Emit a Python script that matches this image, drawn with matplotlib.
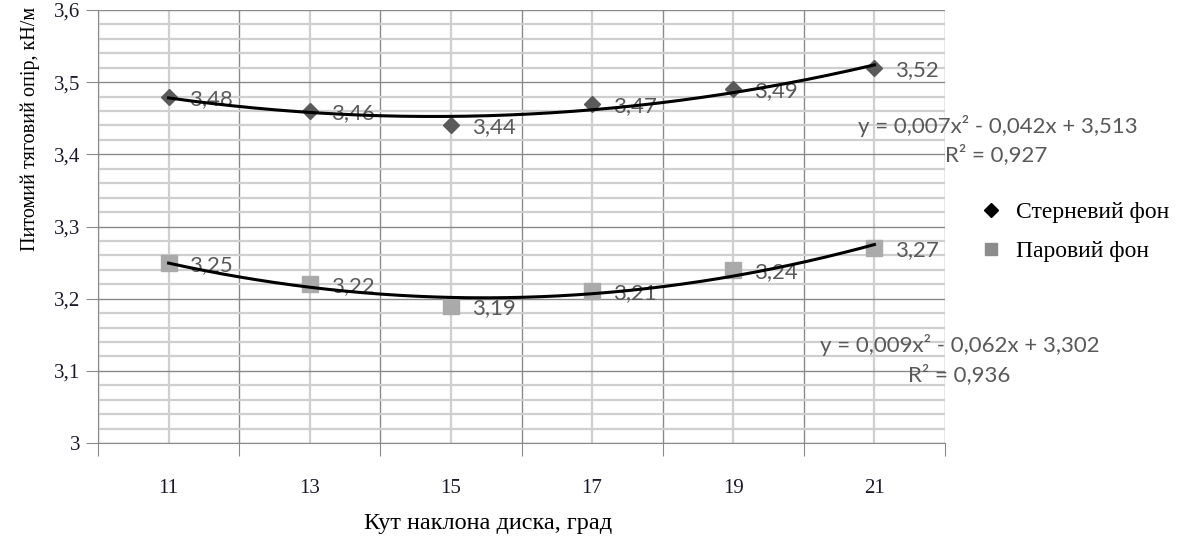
import matplotlib
matplotlib.use("Agg")
import matplotlib.pyplot as plt
from matplotlib.lines import Line2D
from matplotlib.ticker import MultipleLocator, FixedLocator
import numpy as np


# Дані
kuty = [11, 13, 15, 17, 19, 21]
sternevyi = [3.48, 3.46, 3.44, 3.47, 3.49, 3.52]
parovyi = [3.25, 3.22, 3.19, 3.21, 3.24, 3.27]
nazvy_serii = ["Стерневий фон", "Паровий фон"]
rivnyannya_1 = ["y = 0,007x² - 0,042x + 3,513", "R² = 0,927"]
rivnyannya_2 = ["y = 0,009x² - 0,062x + 3,302", "R² = 0,936"]
pidpys_x = "Кут наклона диска, град"
pidpys_y = "Питомий тяговий опір, кН/м"

SERIF = "Liberation Serif"
SANS = "Lato"
SIRYI_TEKST = "#595959"


def kryva_trendu(x, y):
    """Поліноміальний тренд 2-го степеня як в Excel (x = номер точки)."""
    indeksy = np.arange(1, len(x) + 1)
    koef = np.polyfit(indeksy, y, 2)
    gusto = np.linspace(1, len(x), 200)
    x_gusto = x[0] + (gusto - 1) * (x[1] - x[0])
    return x_gusto, np.polyval(koef, gusto)


def pidpysy_tochok(ax, x, y):
    for xi, yi in zip(x, y):
        ax.annotate(f"{yi:.2f}".replace(".", ","), (xi, yi), xytext=(15, -1.5),
                    textcoords="offset points", va="center", ha="left",
                    fontsize=16, family=SANS, color=SIRYI_TEKST)


fig = plt.figure(figsize=(11.92, 5.39), dpi=100)
ax = fig.add_axes([98 / 1192, 96 / 539, 847 / 1192, 433 / 539])

ax.set_xlim(10, 22)
ax.set_ylim(3.0, 3.6)

# сітка
ax.xaxis.set_major_locator(MultipleLocator(2))
ax.xaxis.set_minor_locator(FixedLocator(kuty))
ax.yaxis.set_major_locator(MultipleLocator(0.1))
ax.yaxis.set_minor_locator(MultipleLocator(0.02))
ax.grid(which="major", color="#8a8a8a", lw=1.0)
ax.grid(which="minor", color="#cfcfcf", lw=1.6)
ax.set_axisbelow(True)

ax.tick_params(axis="x", which="major", length=9, color="#8a8a8a", labelbottom=False)
ax.tick_params(axis="x", which="minor", length=0, pad=26, labelsize=15)
ax.tick_params(axis="y", which="major", length=9, color="#8a8a8a", labelsize=15, pad=4)
ax.tick_params(axis="y", which="minor", length=0)
ax.set_xticks(kuty, [str(k) for k in kuty], minor=True)
ax.set_yticks(np.arange(3.0, 3.61, 0.1),
              ["3" if abs(v - 3) < 1e-9 else f"{v:.1f}".replace(".", ",")
               for v in np.arange(3.0, 3.61, 0.1)])
for lab in ax.get_xticklabels(minor=True) + ax.get_yticklabels():
    lab.set_family(SERIF)
    lab.set_color("#1a1a2a")

for storona in ["top", "right"]:
    ax.spines[storona].set_visible(False)
ax.spines["left"].set_color("#8a8a8a")
ax.spines["bottom"].set_color("#8a8a8a")

# серії
ax.plot(kuty, sternevyi, ls="none", marker="D", ms=8, color="#5a5a5a", zorder=3)
ax.plot(kuty, parovyi, ls="none", marker="s", ms=11, color="#aaaaaa", zorder=3)

for y in (sternevyi, parovyi):
    xt, yt = kryva_trendu(kuty, y)
    ax.plot(xt, yt, color="black", lw=2.2, zorder=4)

pidpysy_tochok(ax, kuty, sternevyi)
pidpysy_tochok(ax, kuty, parovyi)

# рівняння трендів
fig.text(1138 / 1192, 1 - 126 / 539, rivnyannya_1[0], ha="right", va="center",
         fontsize=16, family=SANS, color=SIRYI_TEKST)
fig.text(1047 / 1192, 1 - 155 / 539, rivnyannya_1[1], ha="right", va="center",
         fontsize=16, family=SANS, color=SIRYI_TEKST)
fig.text(1100 / 1192, 1 - 345 / 539, rivnyannya_2[0], ha="right", va="center",
         fontsize=16, family=SANS, color=SIRYI_TEKST)
fig.text(1010 / 1192, 1 - 375 / 539, rivnyannya_2[1], ha="right", va="center",
         fontsize=16, family=SANS, color=SIRYI_TEKST)

# легенда
ruchky = [
    Line2D([], [], ls="none", marker="D", ms=7, color="black"),
    Line2D([], [], ls="none", marker="s", ms=8, color="#8c8c8c"),
]
fig.legend(ruchky, nazvy_serii, loc="center left",
           bbox_to_anchor=(958 / 1192, 1 - 232 / 539), frameon=False,
           prop={"family": SERIF, "size": 17}, handletextpad=0.55, labelspacing=0.75,
           handlelength=1.0)

ax.set_ylabel(pidpys_y, family=SERIF, fontsize=14.5)
ax.yaxis.set_label_coords(-0.068, (443 - 129) / 433)
fig.text(488 / 1192, 1 - 523 / 539, pidpys_x, ha="center", va="center",
         family=SERIF, fontsize=17.5)

fig.savefig("out.png", dpi=100)
